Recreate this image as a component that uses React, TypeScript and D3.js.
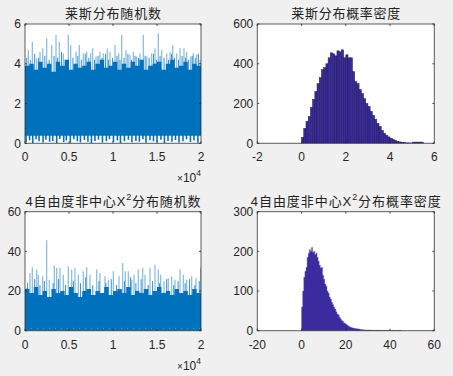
import React from 'react';
import * as d3 from 'd3';

const W = 453;
const H = 376;

// ---------- Top-left: Rician random samples (envelopes) ----------
const riceCoreStep = 500;
const riceCoreTop = [3.9, 4.0, 3.7, 4.1, 3.8, 4.0, 3.6, 4.1, 3.9, 4.2, 3.7, 4.0, 3.8, 3.9, 4.1, 3.7, 4.0, 4.2, 3.8, 3.9, 4.1, 3.7, 4.0, 3.8, 4.1, 3.9, 4.2, 3.7, 3.9, 4.0, 4.1, 3.7, 4.0, 4.2, 3.8, 3.9, 4.1, 3.7, 4.0, 3.9, 4.3];
const riceCoreBottom = 0.38;
const riceSpikeIdx = [379, 833, 1326, 1705, 2008, 2462, 3030, 3523, 3902, 4356, 4924, 5189, 5795, 6174, 6629, 7008, 7462, 7689, 8068, 8523, 8902, 9356, 9659, 10227, 10644, 10985, 11477, 11932, 12311, 12689, 13068, 13447, 13826, 14394, 14773, 15152, 15530, 16098, 16477, 16781, 17235, 17614, 18068, 18371, 18826, 19129, 19508, 19886];
const riceSpikeVal = [4.69, 5.11, 4.28, 4.61, 4.78, 5.28, 4.94, 5.45, 5.11, 4.53, 5.45, 4.94, 4.61, 4.94, 4.53, 4.61, 4.53, 4.78, 4.36, 4.61, 4.53, 4.78, 4.61, 4.94, 4.53, 5.45, 4.69, 4.45, 4.61, 4.36, 4.53, 5.45, 4.36, 4.53, 4.78, 5.53, 4.69, 4.53, 4.61, 4.94, 4.53, 4.78, 4.78, 4.61, 4.36, 4.53, 4.45, 4.2];
const riceSpike2Idx = [200, 600, 1100, 1550, 2250, 2750, 3300, 3700, 4150, 4600, 5450, 6000, 6400, 6850, 7250, 7900, 8300, 8750, 9150, 9500, 9950, 10450, 10800, 11250, 11700, 12100, 12500, 12900, 13250, 13650, 14100, 14600, 14950, 15350, 15800, 16300, 16650, 17000, 17450, 17850, 18250, 18600, 19000, 19350, 19700];
const riceSpike2Val = [4.3, 4.2, 4.5, 4.3, 4.4, 4.2, 4.4, 4.3, 4.6, 4.2, 4.3, 4.4, 4.2, 4.5, 4.3, 4.2, 4.4, 4.3, 4.5, 4.2, 4.3, 4.4, 4.2, 4.3, 4.5, 4.2, 4.4, 4.3, 4.2, 4.4, 4.3, 4.5, 4.2, 4.4, 4.3, 4.2, 4.5, 4.3, 4.2, 4.4, 4.3, 4.2, 4.4, 4.3, 4.5];
const riceDipIdx = [120, 520, 880, 1250, 1600, 2050, 2380, 2800, 3150, 3600, 3950, 4400, 4700, 5150, 5550, 5950, 6300, 6750, 7150, 7550, 7950, 8350, 8800, 9250, 9600, 10050, 10500, 10850, 11300, 11750, 12150, 12600, 13000, 13400, 13750, 14200, 14600, 15000, 15450, 15850, 16250, 16700, 17100, 17500, 17950, 18350, 18800, 19200, 19650];
const riceDipVal = [0.05, 0.15, 0.02, 0.2, 0.1, 0.04, 0.18, 0.08, 0.12, 0.0, 0.22, 0.06, 0.14, 0.03, 0.2, 0.1, 0.05, 0.16, 0.08, 0.02, 0.12, 0.18, 0.04, 0.1, 0.2, 0.06, 0.14, 0.02, 0.1, 0.18, 0.05, 0.12, 0.08, 0.2, 0.03, 0.15, 0.1, 0.06, 0.18, 0.02, 0.12, 0.08, 0.16, 0.04, 0.1, 0.2, 0.06, 0.14, 0.03];

// ---------- Bottom-left: non-central chi-square (4 dof) random samples ----------
const chiCoreStep = 500;
const chiCoreTop = [21, 19, 22, 18, 20, 17, 21, 19, 20, 18, 22, 19, 17, 20, 21, 18, 20, 19, 22, 18, 20, 21, 19, 22, 18, 20, 19, 21, 18, 20, 22, 19, 20, 18, 21, 19, 20, 18, 21, 19, 22];
const chiSpikeIdx = [189, 568, 833, 1326, 1515, 2008, 2462, 2765, 3333, 3598, 3977, 4356, 4924, 5303, 5682, 6061, 6629, 7008, 7386, 8144, 8523, 9091, 9470, 10038, 10682, 11098, 11402, 11742, 12121, 12386, 12879, 13371, 13636, 14205, 14773, 15152, 15417, 15795, 16288, 16667, 17045, 17614, 17992, 18371, 18939, 19432, 19960];
const chiSpikeVal = [21.5, 29.1, 32, 30.8, 28.2, 27.4, 45.6, 25.7, 33, 31.6, 31.6, 28.2, 32.5, 30.8, 31.6, 28.2, 30, 32, 28.2, 30.8, 29.1, 27.4, 25.7, 30, 27.4, 34.1, 30, 30, 25.7, 28.2, 30.8, 31.6, 28.2, 31.6, 33.3, 30.8, 28.2, 24.9, 26.5, 27.4, 25.7, 30.8, 28.2, 25.7, 27.4, 26.5, 31.6];
const chiSpike2Idx = [300, 1100, 1700, 2200, 3200, 3800, 4600, 5500, 6300, 6900, 7700, 8400, 9200, 9800, 10400, 11300, 12000, 12600, 13200, 14000, 14500, 15300, 16100, 16900, 17400, 18200, 18700, 19300, 19800];
const chiSpike2Val = [24, 26, 23, 25, 24, 26, 23, 25, 24, 27, 23, 25, 24, 26, 23, 25, 27, 24, 26, 23, 25, 24, 26, 23, 25, 24, 26, 23, 25];

// ---------- Histograms ----------
const riceHistStart = 0;
const riceHistWidth = 0.1;
const riceHist = [30, 75, 110, 135, 180, 220, 260, 300, 330, 370, 380, 400, 430, 455, 450, 440, 465, 460, 470, 430, 445, 430, 430, 360, 310, 300, 270, 250, 225, 200, 185, 160, 140, 120, 100, 85, 65, 50, 40, 32, 25, 18, 14, 10, 7, 5, 3, 2, 2, 1, 6, 6, 6, 6, 6];

const chiHistStart = 0;
const chiHistWidth = 0.5;
const chiHist = [60, 100, 135, 150, 160, 185, 195, 205, 200, 210, 198, 200, 192, 196, 185, 175, 165, 158, 160, 140, 130, 118, 112, 100, 95, 85, 80, 72, 66, 60, 55, 48, 42, 40, 34, 30, 26, 24, 20, 18, 16, 14, 12, 10, 9, 8, 7, 6, 6, 5, 5, 4, 4, 3, 3, 3, 2, 2, 2, 2, 2, 1, 2, 1, 1, 1, 1, 1, 1, 1, 1, 0, 1, 1, 0, 1, 1, 0, 1, 0, 1, 0, 1, 0, 1, 0, 1, 0, 1, 1];

// ---------- Ticks ----------
const seriesXTicks = [0, 5000, 10000, 15000, 20000];
const seriesXLabels = ['0', '0.5', '1', '1.5', '2'];
const riceYTicks = [0, 2, 4, 6];
const riceHistXTicks = [-2, 0, 2, 4, 6];
const riceHistYTicks = [0, 200, 400, 600];
const chiYTicks = [0, 20, 40, 60];
const chiHistXTicks = [-20, 0, 20, 40, 60];
const chiHistYTicks = [0, 100, 200, 300];

const SERIES_BLUE = '#0072bd';
const HIST_FILL = '#3a2c9e';
const AX = '#262626';
const FONT = '"Liberation Sans", Arial, Helvetica, sans-serif';
const CJK = '"Liberation Sans", "Noto Sans CJK SC", sans-serif';

type PanelProps = {
  id: string;
  left: number; right: number; top: number; bottom: number;
  xDomain: [number, number]; yDomain: [number, number];
  xTicks: number[]; xLabels?: string[]; yTicks: number[];
  title: React.ReactNode;
  titleY: number;
  exp?: boolean;
  render: (x: d3.ScaleLinear<number, number>, y: d3.ScaleLinear<number, number>) => React.ReactNode;
};

function Panel(p: PanelProps) {
  const x = d3.scaleLinear().domain(p.xDomain).range([p.left, p.right]);
  const y = d3.scaleLinear().domain(p.yDomain).range([p.bottom, p.top]);
  const tl = 2;
  const cx = (p.left + p.right) / 2;
  return (
    <g>
      <rect x={p.left} y={p.top} width={p.right - p.left} height={p.bottom - p.top} fill="#fff" />
      <clipPath id={p.id}>
        <rect x={p.left} y={p.top} width={p.right - p.left} height={p.bottom - p.top} />
      </clipPath>
      <g clipPath={`url(#${p.id})`}>{p.render(x, y)}</g>
      <rect x={p.left} y={p.top} width={p.right - p.left} height={p.bottom - p.top} fill="none" stroke={AX} strokeOpacity={0.75} strokeWidth={1} />
      {p.xTicks.map((t, i) => (
        <g key={'xt' + i}>
          <line x1={x(t)} x2={x(t)} y1={p.bottom} y2={p.bottom - tl} stroke={AX} strokeWidth={0.8} />
          <line x1={x(t)} x2={x(t)} y1={p.top} y2={p.top + tl} stroke={AX} strokeWidth={0.8} />
          <text x={x(t)} y={p.bottom + 18} textAnchor="middle" fontFamily={FONT} fontSize={12} fill={AX}>
            {p.xLabels ? p.xLabels[i] : String(t)}
          </text>
        </g>
      ))}
      {p.yTicks.map((t, i) => (
        <g key={'yt' + i}>
          <line x1={p.left} x2={p.left + tl} y1={y(t)} y2={y(t)} stroke={AX} strokeWidth={0.8} />
          <line x1={p.right} x2={p.right - tl} y1={y(t)} y2={y(t)} stroke={AX} strokeWidth={0.8} />
          <text x={p.left - 4} y={y(t)} dy="0.36em" textAnchor="end" fontFamily={FONT} fontSize={12} fill={AX}>
            {String(t)}
          </text>
        </g>
      ))}
      {p.exp && (
        <text x={p.right} y={p.bottom + 39} textAnchor="end" fontFamily={FONT} fill={AX}>
          <tspan fontSize={10}>×</tspan>
          <tspan fontSize={12}>10</tspan>
          <tspan fontSize={8.5} dy={-6}>4</tspan>
        </text>
      )}
      <text x={cx} y={p.titleY} textAnchor="middle" fontFamily={CJK} fontSize={13} fill="#222">
        {p.title}
      </text>
    </g>
  );
}

function coreArea(vals: number[], step: number, bottom: number, x: any, y: any) {
  const a = d3.area<number>()
    .curve(d3.curveStepAfter)
    .x((_, i) => x(i * step))
    .y0(() => y(bottom))
    .y1((d) => y(d));
  return a(vals) || '';
}

function histArea(vals: number[], start: number, width: number, x: any, y: any) {
  const pts = vals.concat([vals[vals.length - 1]]);
  const a = d3.area<number>()
    .curve(d3.curveStepAfter)
    .x((_, i) => x(start + i * width))
    .y0(() => y(0))
    .y1((d) => y(d));
  return a(pts) || '';
}

export default function App() {
  const L1 = 25, R1 = 201, L2 = 257.3, R2 = 434.3;
  const T1 = 24, B1 = 143.3, T2 = 211.7, B2 = 330.7;

  return (
    <svg width={W} height={H} style={{ position: 'absolute', left: 0, top: 0, background: '#f0f0f0' }}>
      <rect x={0} y={0} width={W} height={H} fill="#f0f0f0" />

      {/* Top-left */}
      <Panel id="c1" left={L1} right={R1} top={T1} bottom={B1} xDomain={[0, 20000]} yDomain={[0, 6]}
        xTicks={seriesXTicks} xLabels={seriesXLabels} yTicks={riceYTicks} exp titleY={18}
        title={<tspan textLength={96} lengthAdjust="spacing">莱斯分布随机数</tspan>}
        render={(x, y) => (
          <g>
            <path d={coreArea(riceCoreTop, riceCoreStep, riceCoreBottom, x, y)} fill={SERIES_BLUE} />
            {riceSpikeIdx.map((d, i) => (
              <line key={'s' + i} x1={x(d)} x2={x(d)} y1={y(3.5)} y2={y(riceSpikeVal[i])} stroke={SERIES_BLUE} strokeOpacity={0.45} strokeWidth={1.3} />
            ))}
            {riceSpike2Idx.map((d, i) => (
              <line key={'t' + i} x1={x(d)} x2={x(d)} y1={y(3.5)} y2={y(riceSpike2Val[i])} stroke={SERIES_BLUE} strokeOpacity={0.8} strokeWidth={1} />
            ))}
            {riceDipIdx.map((d, i) => (
              <line key={'d' + i} x1={x(d)} x2={x(d)} y1={y(riceCoreBottom + 0.05)} y2={y(riceDipVal[i])} stroke={SERIES_BLUE} strokeWidth={1.6} />
            ))}
          </g>
        )}
      />

      {/* Top-right */}
      <Panel id="c2" left={L2} right={R2} top={T1} bottom={B1} xDomain={[-2, 6]} yDomain={[0, 600]}
        xTicks={riceHistXTicks} yTicks={riceHistYTicks} titleY={18}
        title={<tspan textLength={109} lengthAdjust="spacing">莱斯分布概率密度</tspan>}
        render={(x, y) => (
          <g>
            {riceHist.map((c, i) => {
              const x0 = riceHistStart + i * riceHistWidth;
              return (
                <rect key={i} x={x(x0)} y={y(c)} width={x(x0 + riceHistWidth) - x(x0)} height={y(0) - y(c)}
                  fill={HIST_FILL} stroke="#1c1650" strokeWidth={0.5} />
              );
            })}
          </g>
        )}
      />

      {/* Bottom-left */}
      <Panel id="c3" left={L1} right={R1} top={T2} bottom={B2} xDomain={[0, 20000]} yDomain={[0, 60]}
        xTicks={seriesXTicks} xLabels={seriesXLabels} yTicks={chiYTicks} exp titleY={206}
        title={<tspan textLength={175} lengthAdjust="spacing">4自由度非中心X<tspan fontSize={9} dy={-6}>2</tspan><tspan dy={6}>分布随机数</tspan></tspan>}
        render={(x, y) => (
          <g>
            <path d={coreArea(chiCoreTop, chiCoreStep, 0, x, y)} fill={SERIES_BLUE} />
            {chiSpikeIdx.map((d, i) => (
              <line key={'s' + i} x1={x(d)} x2={x(d)} y1={y(16)} y2={y(chiSpikeVal[i])} stroke={SERIES_BLUE} strokeOpacity={0.45} strokeWidth={1.3} />
            ))}
            {chiSpike2Idx.map((d, i) => (
              <line key={'t' + i} x1={x(d)} x2={x(d)} y1={y(16)} y2={y(chiSpike2Val[i])} stroke={SERIES_BLUE} strokeOpacity={0.8} strokeWidth={1} />
            ))}
            <line x1={x(0)} x2={x(20000)} y1={y(1.2)} y2={y(1.2)} stroke="#fff" strokeOpacity={0.3} strokeWidth={1} strokeDasharray="1 5" />
          </g>
        )}
      />

      {/* Bottom-right */}
      <Panel id="c4" left={L2} right={R2} top={T2} bottom={B2} xDomain={[-20, 60]} yDomain={[0, 300]}
        xTicks={chiHistXTicks} yTicks={chiHistYTicks} titleY={206}
        title={<tspan textLength={190} lengthAdjust="spacing">4自由度非中心X<tspan fontSize={9} dy={-6}>2</tspan><tspan dy={6}>分布概率密度</tspan></tspan>}
        render={(x, y) => (
          <path d={histArea(chiHist, chiHistStart, chiHistWidth, x, y)} fill={HIST_FILL} stroke="#6a5fc4" strokeWidth={0.6} strokeOpacity={0.6} />
        )}
      />
    </svg>
  );
}
